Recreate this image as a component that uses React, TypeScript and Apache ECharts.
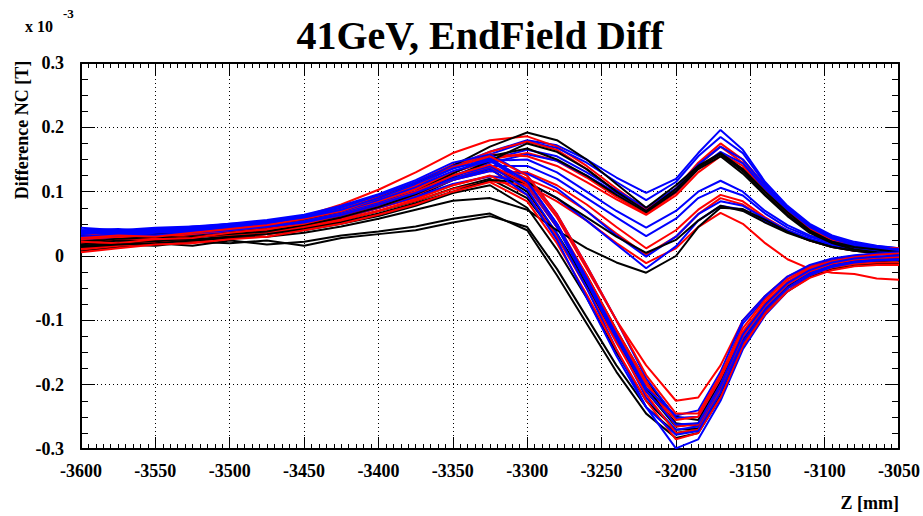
import React, { useEffect, useRef } from "react";
import * as echarts from "echarts";

// Z positions (mm) shared by every curve
const zPositions = [-3600, -3575, -3550, -3525, -3500, -3475, -3450, -3425, -3400, -3375, -3350, -3325, -3300, -3280, -3260, -3240, -3220, -3200, -3185, -3170, -3155, -3140, -3125, -3110, -3095, -3080, -3065, -3050];

// values in units of 1e-3 T
// black curves
const blackLow1 = [0.012, 0.018, 0.016, 0.022, 0.02, 0.024, 0.016, 0.028, 0.034, 0.04, 0.052, 0.062, 0.045, -0.02, -0.095, -0.17, -0.235, -0.275, -0.27, -0.215, -0.135, -0.085, -0.05, -0.03, -0.018, -0.012, -0.012, -0.01];
const blackLow2 = [0.008, 0.014, 0.02, 0.016, 0.024, 0.018, 0.022, 0.032, 0.038, 0.046, 0.058, 0.066, 0.04, -0.03, -0.105, -0.18, -0.245, -0.283, -0.275, -0.22, -0.14, -0.09, -0.055, -0.033, -0.02, -0.015, -0.013, -0.012];
const blackTrough1 = [0.02, 0.024, 0.028, 0.03, 0.036, 0.04, 0.048, 0.056, 0.07, 0.085, 0.105, 0.12, 0.09, 0.03, -0.045, -0.13, -0.21, -0.265, -0.26, -0.2, -0.125, -0.078, -0.045, -0.025, -0.012, -0.006, -0.004, -0.003];
const blackTrough2 = [0.026, 0.022, 0.03, 0.034, 0.032, 0.04, 0.046, 0.06, 0.075, 0.092, 0.118, 0.135, 0.1, 0.035, -0.04, -0.125, -0.205, -0.26, -0.265, -0.21, -0.13, -0.082, -0.048, -0.028, -0.015, -0.008, -0.006, -0.005];
const blackTrough3 = [0.015, 0.02, 0.025, 0.022, 0.03, 0.034, 0.04, 0.05, 0.062, 0.078, 0.098, 0.11, 0.075, 0.01, -0.065, -0.15, -0.225, -0.27, -0.268, -0.205, -0.13, -0.08, -0.046, -0.026, -0.014, -0.01, -0.008, -0.007];
const blackTrough4 = [0.03, 0.028, 0.032, 0.036, 0.04, 0.044, 0.052, 0.064, 0.08, 0.098, 0.125, 0.14, 0.11, 0.045, -0.03, -0.115, -0.195, -0.25, -0.255, -0.195, -0.12, -0.075, -0.042, -0.022, -0.01, -0.004, -0.002, 0.0];
const blackUpper1 = [0.028, 0.03, 0.034, 0.032, 0.04, 0.046, 0.056, 0.07, 0.09, 0.112, 0.14, 0.17, 0.192, 0.18, 0.15, 0.112, 0.075, 0.11, 0.14, 0.16, 0.135, 0.1, 0.068, 0.04, 0.022, 0.012, 0.008, 0.005];
const blackUpper2 = [0.022, 0.026, 0.03, 0.028, 0.036, 0.042, 0.05, 0.064, 0.08, 0.1, 0.128, 0.155, 0.167, 0.15, 0.125, 0.095, 0.068, 0.1, 0.135, 0.155, 0.128, 0.094, 0.062, 0.036, 0.02, 0.01, 0.006, 0.004];
const blackUpper3 = [0.018, 0.024, 0.022, 0.03, 0.034, 0.038, 0.048, 0.06, 0.076, 0.096, 0.122, 0.148, 0.175, 0.162, 0.135, 0.1, 0.07, 0.104, 0.138, 0.158, 0.132, 0.096, 0.064, 0.038, 0.022, 0.014, 0.01, 0.006];
const blackMid1 = [0.016, 0.02, 0.024, 0.026, 0.03, 0.034, 0.042, 0.052, 0.066, 0.082, 0.1, 0.118, 0.115, 0.09, 0.06, 0.03, 0.005, 0.025, 0.055, 0.078, 0.07, 0.052, 0.036, 0.024, 0.014, 0.008, 0.005, 0.003];
const blackMid2 = [0.014, 0.018, 0.02, 0.024, 0.028, 0.03, 0.036, 0.046, 0.058, 0.072, 0.086, 0.09, 0.072, 0.04, 0.012, -0.01, -0.026, 0.0, 0.045, 0.075, 0.073, 0.056, 0.038, 0.024, 0.014, 0.008, 0.004, 0.002];

// red curves
const redUpper1 = [0.03, 0.034, 0.036, 0.04, 0.044, 0.05, 0.062, 0.08, 0.103, 0.13, 0.16, 0.18, 0.186, 0.17, 0.14, 0.105, 0.072, 0.105, 0.145, 0.175, 0.15, 0.11, 0.075, 0.045, 0.026, 0.016, 0.012, 0.01];
const redUpper2 = [0.024, 0.028, 0.032, 0.036, 0.042, 0.046, 0.056, 0.07, 0.09, 0.112, 0.138, 0.162, 0.178, 0.165, 0.135, 0.1, 0.068, 0.1, 0.142, 0.17, 0.145, 0.106, 0.07, 0.042, 0.024, 0.016, 0.013, 0.012];
const redUpper3 = [0.02, 0.026, 0.03, 0.028, 0.038, 0.044, 0.052, 0.064, 0.082, 0.104, 0.13, 0.15, 0.16, 0.148, 0.122, 0.092, 0.065, 0.098, 0.135, 0.16, 0.14, 0.104, 0.07, 0.04, 0.022, 0.014, 0.01, 0.008];
const redUpper4 = [0.034, 0.03, 0.036, 0.04, 0.046, 0.05, 0.058, 0.072, 0.092, 0.115, 0.142, 0.158, 0.155, 0.14, 0.115, 0.088, 0.064, 0.094, 0.13, 0.155, 0.136, 0.1, 0.066, 0.038, 0.02, 0.012, 0.009, 0.007];
const redMid1 = [0.02, 0.026, 0.028, 0.032, 0.036, 0.042, 0.05, 0.062, 0.078, 0.096, 0.118, 0.132, 0.13, 0.11, 0.08, 0.045, 0.012, 0.04, 0.072, 0.095, 0.085, 0.06, 0.04, 0.026, 0.016, 0.01, 0.008, 0.006];
const redMid2 = [0.016, 0.022, 0.026, 0.03, 0.032, 0.036, 0.046, 0.058, 0.074, 0.09, 0.11, 0.124, 0.12, 0.1, 0.07, 0.035, 0.002, 0.03, 0.065, 0.09, 0.08, 0.058, 0.038, 0.024, 0.014, 0.008, 0.006, 0.004];
const redOdd = [0.012, 0.018, 0.024, 0.022, 0.03, 0.034, 0.042, 0.054, 0.07, 0.086, 0.104, 0.116, 0.11, 0.085, 0.055, 0.02, -0.011, 0.012, 0.045, 0.067, 0.05, 0.02, -0.005, -0.02, -0.026, -0.028, -0.035, -0.037];
const redTrough1 = [0.026, 0.03, 0.028, 0.034, 0.04, 0.046, 0.054, 0.066, 0.084, 0.104, 0.13, 0.148, 0.12, 0.06, -0.02, -0.1, -0.17, -0.225, -0.22, -0.17, -0.1, -0.062, -0.032, -0.016, -0.006, 0.0, 0.004, 0.006];
const redTrough2 = [0.018, 0.024, 0.022, 0.03, 0.034, 0.04, 0.048, 0.06, 0.076, 0.095, 0.12, 0.138, 0.108, 0.045, -0.035, -0.12, -0.2, -0.255, -0.25, -0.19, -0.118, -0.072, -0.04, -0.02, -0.01, -0.005, -0.002, 0.0];
const redTrough3 = [0.01, 0.016, 0.02, 0.024, 0.028, 0.034, 0.044, 0.056, 0.07, 0.088, 0.11, 0.125, 0.095, 0.03, -0.05, -0.135, -0.215, -0.275, -0.27, -0.21, -0.135, -0.085, -0.05, -0.03, -0.018, -0.012, -0.01, -0.01];
const redTrough4 = [0.022, 0.02, 0.026, 0.028, 0.036, 0.042, 0.05, 0.064, 0.08, 0.1, 0.125, 0.142, 0.112, 0.05, -0.03, -0.115, -0.195, -0.265, -0.262, -0.2, -0.125, -0.078, -0.044, -0.024, -0.012, -0.006, -0.004, -0.002];
const redTrough5 = [0.006, 0.012, 0.018, 0.02, 0.026, 0.03, 0.04, 0.05, 0.064, 0.08, 0.1, 0.115, 0.085, 0.02, -0.06, -0.145, -0.225, -0.285, -0.275, -0.22, -0.14, -0.09, -0.055, -0.034, -0.022, -0.016, -0.014, -0.014];
const redTrough6 = [0.028, 0.032, 0.03, 0.036, 0.042, 0.048, 0.058, 0.07, 0.09, 0.11, 0.138, 0.155, 0.125, 0.065, -0.015, -0.1, -0.185, -0.245, -0.245, -0.185, -0.112, -0.068, -0.036, -0.018, -0.008, -0.002, 0.002, 0.004];

// blue curves
const blueUpper1 = [0.04, 0.038, 0.042, 0.044, 0.048, 0.054, 0.062, 0.074, 0.092, 0.114, 0.14, 0.162, 0.18, 0.172, 0.15, 0.122, 0.098, 0.12, 0.16, 0.196, 0.165, 0.115, 0.078, 0.05, 0.032, 0.022, 0.016, 0.012];
const blueUpper2 = [0.036, 0.04, 0.038, 0.046, 0.05, 0.052, 0.06, 0.072, 0.088, 0.11, 0.136, 0.158, 0.178, 0.168, 0.145, 0.115, 0.087, 0.115, 0.155, 0.185, 0.16, 0.112, 0.076, 0.048, 0.03, 0.02, 0.015, 0.012];
const blueUpper3 = [0.032, 0.036, 0.04, 0.038, 0.044, 0.05, 0.058, 0.068, 0.084, 0.104, 0.13, 0.15, 0.165, 0.155, 0.13, 0.102, 0.075, 0.105, 0.142, 0.17, 0.15, 0.108, 0.074, 0.046, 0.028, 0.018, 0.014, 0.01];
const blueUpper4 = [0.038, 0.034, 0.04, 0.042, 0.046, 0.048, 0.056, 0.066, 0.082, 0.1, 0.125, 0.145, 0.158, 0.148, 0.125, 0.098, 0.07, 0.1, 0.136, 0.162, 0.144, 0.104, 0.072, 0.045, 0.027, 0.018, 0.013, 0.01];
const blueMid1 = [0.034, 0.038, 0.036, 0.04, 0.046, 0.05, 0.058, 0.07, 0.086, 0.106, 0.13, 0.148, 0.15, 0.13, 0.1, 0.07, 0.044, 0.07, 0.1, 0.117, 0.1, 0.07, 0.048, 0.032, 0.022, 0.016, 0.012, 0.01];
const blueMid2 = [0.03, 0.034, 0.038, 0.036, 0.042, 0.048, 0.054, 0.066, 0.082, 0.1, 0.124, 0.14, 0.14, 0.12, 0.09, 0.06, 0.031, 0.058, 0.09, 0.106, 0.094, 0.066, 0.044, 0.03, 0.02, 0.014, 0.011, 0.009];
const blueMid3 = [0.028, 0.03, 0.034, 0.038, 0.04, 0.044, 0.052, 0.062, 0.078, 0.096, 0.118, 0.132, 0.128, 0.105, 0.07, 0.032, -0.001, 0.03, 0.065, 0.085, 0.078, 0.058, 0.04, 0.027, 0.018, 0.012, 0.009, 0.007];
const blueMid4 = [0.026, 0.03, 0.032, 0.034, 0.038, 0.044, 0.05, 0.06, 0.075, 0.092, 0.112, 0.124, 0.115, 0.09, 0.055, 0.018, -0.019, 0.015, 0.055, 0.078, 0.072, 0.054, 0.038, 0.025, 0.016, 0.011, 0.008, 0.006];
const blueTrough1 = [0.04, 0.042, 0.038, 0.044, 0.05, 0.056, 0.064, 0.078, 0.096, 0.118, 0.145, 0.158, 0.125, 0.065, -0.015, -0.1, -0.19, -0.252, -0.25, -0.19, -0.105, -0.066, -0.036, -0.018, -0.007, -0.002, 0.002, 0.004];
const blueTrough2 = [0.034, 0.038, 0.04, 0.042, 0.046, 0.05, 0.058, 0.07, 0.088, 0.108, 0.132, 0.148, 0.112, 0.045, -0.04, -0.13, -0.22, -0.27, -0.265, -0.205, -0.128, -0.08, -0.045, -0.024, -0.012, -0.006, -0.003, -0.002];
const blueTrough3 = [0.03, 0.032, 0.036, 0.04, 0.042, 0.046, 0.054, 0.066, 0.082, 0.1, 0.124, 0.14, 0.104, 0.035, -0.05, -0.145, -0.235, -0.299, -0.285, -0.225, -0.145, -0.092, -0.055, -0.03, -0.017, -0.01, -0.007, -0.006];
const blueTrough4 = [0.044, 0.04, 0.044, 0.046, 0.048, 0.054, 0.062, 0.076, 0.094, 0.115, 0.14, 0.152, 0.116, 0.05, -0.035, -0.122, -0.205, -0.248, -0.24, -0.18, -0.1, -0.062, -0.032, -0.014, -0.004, 0.001, 0.004, 0.006];
const blueTrough5 = [0.028, 0.034, 0.032, 0.036, 0.04, 0.046, 0.052, 0.064, 0.08, 0.098, 0.12, 0.136, 0.095, 0.025, -0.065, -0.155, -0.235, -0.278, -0.272, -0.212, -0.134, -0.084, -0.05, -0.027, -0.015, -0.009, -0.006, -0.005];
const blueTrough6 = [0.036, 0.036, 0.042, 0.04, 0.046, 0.052, 0.06, 0.072, 0.09, 0.112, 0.136, 0.15, 0.116, 0.05, -0.035, -0.125, -0.21, -0.262, -0.26, -0.2, -0.122, -0.076, -0.042, -0.022, -0.01, -0.004, -0.001, 0.001];

const blackCurves = [blackLow1, blackLow2, blackTrough1, blackTrough2, blackTrough3, blackTrough4, blackUpper1, blackUpper2, blackUpper3, blackMid1, blackMid2];
const redCurves = [redUpper1, redUpper2, redUpper3, redUpper4, redMid1, redMid2, redOdd, redTrough1, redTrough2, redTrough3, redTrough4, redTrough5, redTrough6];
const blueCurves = [blueUpper1, blueUpper2, blueUpper3, blueUpper4, blueMid1, blueMid2, blueMid3, blueMid4, blueTrough1, blueTrough2, blueTrough3, blueTrough4, blueTrough5, blueTrough6];

const xTickLabels = ["-3600", "-3550", "-3500", "-3450", "-3400", "-3350", "-3300", "-3250", "-3200", "-3150", "-3100", "-3050"];

const FONT = "Liberation Serif";

export default function App() {
  const ref = useRef<HTMLDivElement>(null);
  useEffect(() => {
    if (!ref.current) return;
    const chart = echarts.init(ref.current, null, { renderer: "svg" });
    const mkOne = (c: number[], color: string, name: string) => ({
      name,
      type: "line",
      data: c.map((v, j) => [zPositions[j], v]),
      showSymbol: false,
      symbol: "none",
      lineStyle: { color, width: 2 },
      itemStyle: { color },
      silent: true,
    });
    // interleave the three colour groups so that none sits entirely on top
    const series: any[] = [];
    const n = Math.max(blueCurves.length, redCurves.length, blackCurves.length);
    for (let i = 0; i < n; i++) {
      if (i < blueCurves.length) series.push(mkOne(blueCurves[i], "#0000ff", "b" + i));
      if (i < redCurves.length) series.push(mkOne(redCurves[i], "#ff0000", "r" + i));
      if (i < blackCurves.length) series.push(mkOne(blackCurves[i], "#000000", "k" + i));
    }
    const xCommon = {
      type: "value",
      min: -3600,
      max: -3050,
      interval: 50,
    };
    const yCommon = {
      type: "value",
      min: -0.3,
      max: 0.3,
      interval: 0.1,
    };
    chart.setOption({
      animation: false,
      backgroundColor: "#ffffff",
      grid: { left: 81, right: 24, top: 63, bottom: 67, containLabel: false },
      title: {
        text: "41GeV, EndField Diff",
        left: 475,
        top: 10,
        textAlign: "center",
        textStyle: { fontFamily: FONT, fontWeight: "bold", fontSize: 40, color: "#000" },
      },
      xAxis: [
        {
          ...xCommon,
          position: "bottom",
          axisLine: { show: true, onZero: false, lineStyle: { color: "#000", width: 2 } },
          axisTick: { show: true, inside: true, length: 12, lineStyle: { color: "#000", width: 1 } },
          minorTick: { show: true, splitNumber: 10, length: 5, lineStyle: { color: "#000", width: 1 } },
          axisLabel: {
            show: true,
            margin: 13,
            fontFamily: FONT,
            fontWeight: "bold",
            fontSize: 18,
            color: "#000",
            formatter: (v: number) => {
              const idx = Math.round((v + 3600) / 50);
              return xTickLabels[idx] ?? String(v);
            },
          },
          splitLine: { show: true, lineStyle: { color: "#000", width: 1, type: [1, 3] } },
        },
        {
          ...xCommon,
          position: "top",
          axisLine: { show: true, onZero: false, lineStyle: { color: "#000", width: 2 } },
          axisTick: { show: true, inside: true, length: 12, lineStyle: { color: "#000", width: 1 } },
          minorTick: { show: true, splitNumber: 10, length: 5, lineStyle: { color: "#000", width: 1 } },
          axisLabel: { show: false },
          splitLine: { show: false },
        },
      ],
      yAxis: [
        {
          ...yCommon,
          position: "left",
          axisLine: { show: true, onZero: false, lineStyle: { color: "#000", width: 2 } },
          axisTick: { show: true, inside: true, length: 14, lineStyle: { color: "#000", width: 1 } },
          minorTick: { show: true, splitNumber: 4, length: 7, lineStyle: { color: "#000", width: 1 } },
          axisLabel: {
            show: true,
            margin: 17,
            fontFamily: FONT,
            fontWeight: "bold",
            fontSize: 18,
            color: "#000",
            formatter: (v: number) => String(parseFloat(v.toFixed(1)) || 0),
          },
          splitLine: { show: true, lineStyle: { color: "#000", width: 1, type: [1, 3] } },
        },
        {
          ...yCommon,
          position: "right",
          axisLine: { show: true, onZero: false, lineStyle: { color: "#000", width: 2 } },
          axisTick: { show: true, inside: true, length: 14, lineStyle: { color: "#000", width: 1 } },
          minorTick: { show: true, splitNumber: 4, length: 7, lineStyle: { color: "#000", width: 1 } },
          axisLabel: { show: false },
          splitLine: { show: false },
        },
      ],
      graphic: [
        {
          type: "text",
          left: 25,
          top: 18,
          style: { text: "x 10", fontFamily: FONT, fontWeight: "bold", fontSize: 16, fill: "#000" },
        },
        {
          type: "text",
          left: 63,
          top: 7,
          style: { text: "-3", fontFamily: FONT, fontWeight: "bold", fontSize: 13, fill: "#000" },
        },
        {
          type: "text",
          x: 22,
          y: 130,
          rotation: Math.PI / 2,
          style: {
            text: "Difference NC [T]",
            fontFamily: FONT,
            fontWeight: "bold",
            fontSize: 18,
            fill: "#000",
            align: "center",
            verticalAlign: "middle",
          },
        },
        {
          type: "text",
          right: 24,
          top: 494,
          style: { text: "Z [mm]", fontFamily: FONT, fontWeight: "bold", fontSize: 18, fill: "#000" },
        },
      ],
      series,
    });
    return () => chart.dispose();
  }, []);
  return <div ref={ref} style={{ width: 923, height: 516, position: "absolute", left: 0, top: 0 }} />;
}
